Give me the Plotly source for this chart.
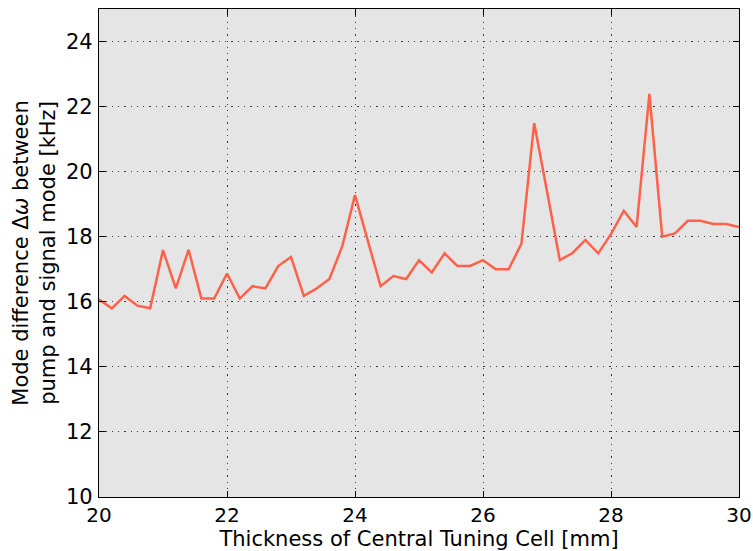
import plotly.graph_objects as go

thickness = [20.0, 20.2, 20.4, 20.6, 20.8, 21.0, 21.2, 21.4, 21.6, 21.8,
             22.0, 22.2, 22.4, 22.6, 22.8, 23.0, 23.2, 23.4, 23.6, 23.8,
             24.0, 24.2, 24.4, 24.6, 24.8, 25.0, 25.2, 25.4, 25.6, 25.8,
             26.0, 26.2, 26.4, 26.6, 26.8, 27.0, 27.2, 27.4, 27.6, 27.8,
             28.0, 28.2, 28.4, 28.6, 28.8, 29.0, 29.2, 29.4, 29.6, 29.8, 30.0]
mode_diff = [16.07, 15.8, 16.18, 15.88, 15.8, 17.59, 16.41, 17.6, 16.1, 16.1,
             16.87, 16.1, 16.48, 16.41, 17.1, 17.38, 16.18, 16.41, 16.7, 17.7,
             19.28, 17.9, 16.48, 16.79, 16.7, 17.28, 16.9, 17.49, 17.1, 17.1,
             17.28, 17.0, 17.0, 17.78, 21.49, 19.4, 17.28, 17.5, 17.9, 17.49,
             18.08, 18.8, 18.3, 22.39, 18.0, 18.1, 18.49, 18.49, 18.39, 18.39, 18.3]

x_ticks = [20, 22, 24, 26, 28, 30]
y_ticks = [10, 12, 14, 16, 18, 20, 22, 24]

FONT = "DejaVu Sans"

fig = go.Figure()
fig.add_trace(go.Scatter(x=thickness, y=mode_diff, mode="lines",
                         line=dict(color="#ff6149", width=2.5),
                         showlegend=False))

axis_common = dict(
    showline=True, linecolor="black", linewidth=1.2, mirror="allticks",
    ticks="inside", ticklen=6, tickcolor="black", tickwidth=1,
    showgrid=True, gridcolor="#3a3a3a", griddash="1.3px,5px", gridwidth=1.3,
    zeroline=False, automargin=False,
    tickfont=dict(family=FONT, size=21, color="black"),
)

fig.update_layout(
    width=753, height=551,
    margin=dict(l=99, r=14, t=9, b=54),
    paper_bgcolor="white", plot_bgcolor="#e5e5e5",
    xaxis=dict(range=[20, 30], tickvals=x_ticks, ticklabelstandoff=0,
               title=dict(text="Thickness of Central Tuning Cell [mm]",
                          font=dict(family=FONT, size=21, color="black"),
                          standoff=3),
               **axis_common),
    yaxis=dict(range=[10, 25], tickvals=y_ticks, ticklabelstandoff=1,
               title=dict(text="Mode difference Δ<i>ω</i> between<br>pump and signal mode [kHz]",
                          font=dict(family=FONT, size=21, color="black"),
                          standoff=4),
               **axis_common),
)
fig.update_xaxes(tickfont=dict(size=20))

fig.write_html("out.html")
